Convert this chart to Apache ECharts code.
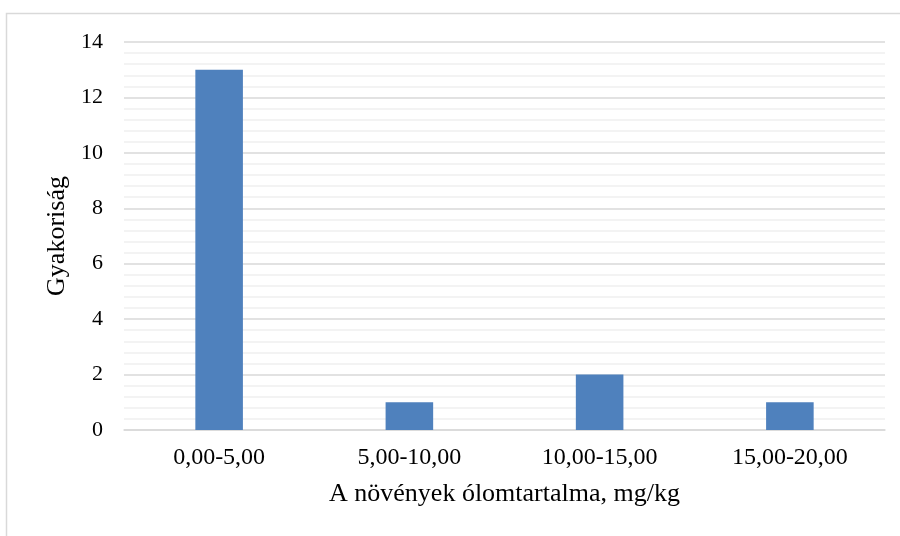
<!DOCTYPE html>
<html>
<head>
<meta charset="utf-8">
<script src="https://cdn.jsdelivr.net/npm/echarts@6/dist/echarts.min.js"></script>
<style>
  html, body { margin: 0; padding: 0; background: #fff; }
  #chart { width: 900px; height: 536px; }
</style>
</head>
<body>
<div id="chart"></div>
<script>
// Lead content of plants, frequency histogram
const categories = ['0,00-5,00', '5,00-10,00', '10,00-15,00', '15,00-20,00'];
const frequency = [13, 1, 2, 1];
const yTicks = { min: 0, max: 14, step: 2 };

const serif = "'Liberation Serif', 'Times New Roman', serif";

const chart = echarts.init(document.getElementById('chart'), null, { renderer: 'canvas' });
chart.setOption({
  animation: false,
  backgroundColor: '#fff',
  graphic: [{
    type: 'rect',
    shape: { x: 6.5, y: 13.5, width: 1000, height: 1000 },
    style: { fill: 'none', stroke: '#d9d9d9', lineWidth: 1.5 },
    silent: true
  }],
  grid: { left: 124, right: 15, top: 42, bottom: 106 },
  xAxis: {
    type: 'category',
    data: categories,
    name: 'A növények ólomtartalma, mg/kg',
    nameLocation: 'middle',
    nameGap: 51,
    nameTextStyle: { fontFamily: serif, fontSize: 26, color: '#000' },
    axisLine: { lineStyle: { color: '#d9d9d9', width: 1.5 } },
    axisTick: { show: false },
    axisLabel: { fontFamily: serif, fontSize: 24, color: '#000', margin: 16 }
  },
  yAxis: {
    type: 'value',
    min: yTicks.min,
    max: yTicks.max,
    interval: yTicks.step,
    name: 'Gyakoriság',
    nameLocation: 'middle',
    nameGap: 50,
    nameTextStyle: { fontFamily: serif, fontSize: 26, color: '#000' },
    axisLine: { show: false },
    axisTick: { show: false },
    axisLabel: { fontFamily: serif, fontSize: 22, color: '#000', margin: 21 },
    splitLine: { lineStyle: { color: '#d9d9d9', width: 1.5 } },
    minorTick: { show: false, splitNumber: 5 },
    minorSplitLine: { show: true, lineStyle: { color: '#f0f0f0', width: 1.5 } }
  },
  series: [{
    type: 'bar',
    data: frequency,
    barWidth: '25%',
    itemStyle: { color: '#4f81bd' }
  }]
});
</script>
</body>
</html>
